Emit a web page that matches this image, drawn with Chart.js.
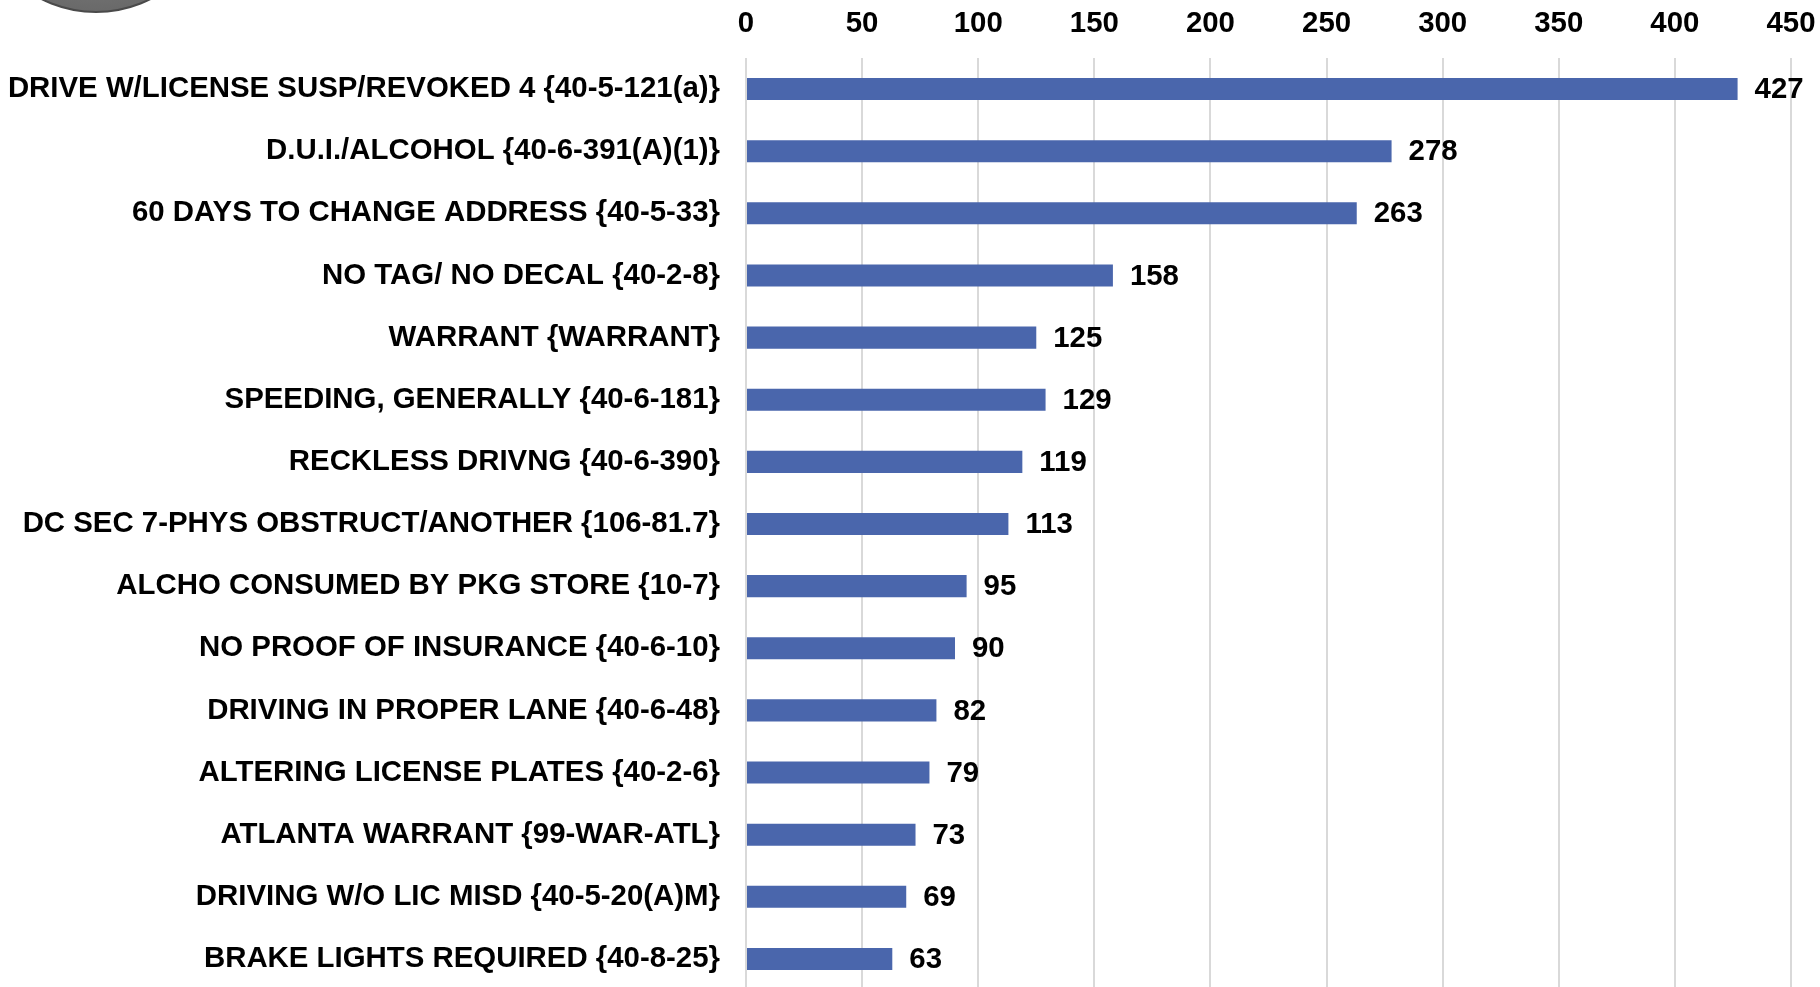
<!DOCTYPE html>
<html lang="en">
<head>
  <meta charset="UTF-8" />
  <title>Top charges</title>
  <script src="https://cdn.jsdelivr.net/npm/chart.js"></script>
  <style>
    html, body {
      margin: 0;
      padding: 0;
      background: #fff;
      overflow: hidden;
    }
    #wrap {
      position: relative;
      width: 1820px;
      height: 987px;
      overflow: hidden;
    }
    /* badge cut off at the top-left corner */
    #badge {
      position: absolute;
      left: -26px;
      top: -231px;
      width: 244px;
      height: 244px;
      border-radius: 50%;
      background: radial-gradient(circle at 50% 40%, #8a8a8a 0%, #6e6e6e 70%, #5a5a5a 100%);
      border: 2px solid #4a4a4a;
      box-sizing: border-box;
    }
    canvas {
      position: absolute;
      left: 0;
      top: 0;
    }
  </style>
</head>
<body>
  <div id="wrap">
    <div id="badge"></div>
    <!-- un poco más alto que la ventana: el gráfico original está cortado abajo -->
    <canvas id="chargesChart" width="1820" height="990"></canvas>
  </div>

  <script>
    const charges = [
      "DRIVE W/LICENSE SUSP/REVOKED 4 {40-5-121(a)}",
      "D.U.I./ALCOHOL {40-6-391(A)(1)}",
      "60 DAYS TO CHANGE ADDRESS {40-5-33}",
      "NO TAG/ NO DECAL {40-2-8}",
      "WARRANT {WARRANT}",
      "SPEEDING, GENERALLY {40-6-181}",
      "RECKLESS DRIVNG {40-6-390}",
      "DC SEC 7-PHYS OBSTRUCT/ANOTHER {106-81.7}",
      "ALCHO CONSUMED BY PKG STORE {10-7}",
      "NO PROOF OF INSURANCE {40-6-10}",
      "DRIVING IN PROPER LANE {40-6-48}",
      "ALTERING LICENSE PLATES {40-2-6}",
      "ATLANTA WARRANT {99-WAR-ATL}",
      "DRIVING W/O LIC MISD {40-5-20(A)M}",
      "BRAKE LIGHTS REQUIRED {40-8-25}"
    ];

    const counts = [427, 278, 263, 158, 125, 129, 119, 113, 95, 90, 82, 79, 73, 69, 63];

    const axisMax = 450;
    const axisStep = 50;

    const FONT = "'Liberation Sans', Arial, sans-serif";

    // etiquetas de valor al final de cada barra
    const valueLabels = {
      id: 'valueLabels',
      afterDatasetsDraw(chart) {
        const ctx = chart.ctx;
        const meta = chart.getDatasetMeta(0);
        ctx.save();
        ctx.font = "bold 29.4px " + FONT;
        ctx.fillStyle = "#000";
        ctx.textAlign = "left";
        ctx.textBaseline = "middle";
        meta.data.forEach((bar, i) => {
          ctx.fillText(String(counts[i]), bar.x + 17, bar.y + 1);
        });
        ctx.restore();
      }
    };

    const ctx = document.getElementById("chargesChart").getContext("2d");

    new Chart(ctx, {
      type: "bar",
      data: {
        labels: charges,
        datasets: [{
          data: counts,
          backgroundColor: "#4A66AC",
          borderWidth: 0,
          barPercentage: 0.355,
          categoryPercentage: 1
        }]
      },
      options: {
        indexAxis: 'y',
        responsive: false,
        animation: false,
        layout: {
          padding: { left: 0, right: 29, top: 0, bottom: 0 }
        },
        plugins: {
          legend: { display: false },
          tooltip: { enabled: false }
        },
        scales: {
          x: {
            position: 'top',
            min: 0,
            max: axisMax,
            ticks: {
              stepSize: axisStep,
              padding: 16,
              color: "#000",
              font: { family: FONT, size: 29.4, weight: "bold" }
            },
            grid: {
              color: "#d9d9d9",
              lineWidth: 2,
              drawTicks: false
            },
            border: { display: false },
            afterFit(scale) {
              scale.height = 58;
              scale.paddingLeft = 0;
              scale.paddingRight = 0;
            }
          },
          y: {
            ticks: {
              padding: 26,
              color: "#000",
              font: { family: FONT, size: 29.4, weight: "bold" }
            },
            grid: { display: false, drawTicks: false },
            border: { display: false },
            afterFit(scale) {
              scale.width = 746;
              scale.paddingTop = 0;
              scale.paddingBottom = 0;
            }
          }
        }
      },
      plugins: [valueLabels]
    });
  </script>
</body>
</html>
